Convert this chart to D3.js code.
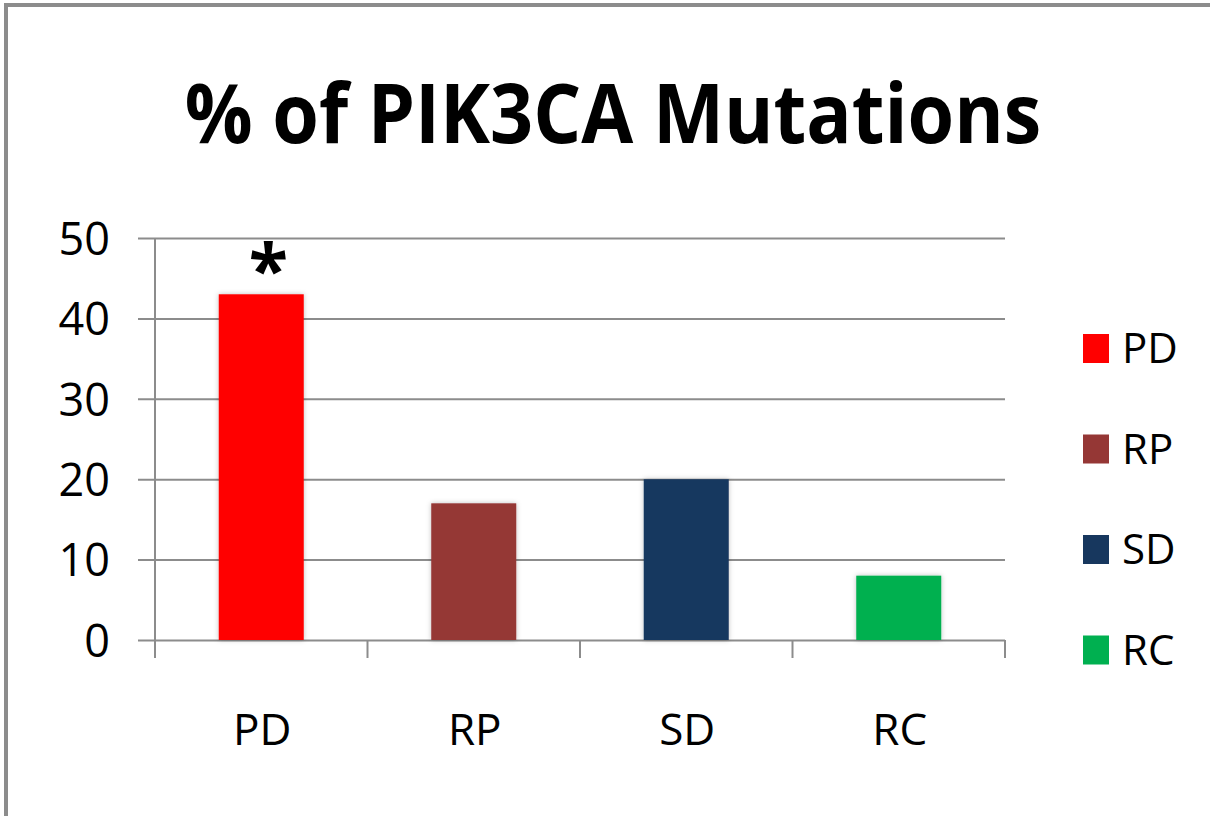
<!DOCTYPE html>
<html>
<head>
<meta charset="utf-8">
<script src="https://cdn.jsdelivr.net/npm/d3@7"></script>
<style>
  body { margin: 0; background: #fff; }
  svg { display: block; }
</style>
</head>
<body>
<svg id="chart"></svg>
<script>
var width = 1210,
    height = 816;

// data
var categories = ['PD', 'RP', 'SD', 'RC'];
var values = [43, 17, 20, 8];
var colors = ['#ff0000', '#953735', '#17375e', '#00b050'];
var yTicks = [0, 10, 20, 30, 40, 50];
var marks = [{ cat: 'PD', text: '*' }];

var PLOT = {
    LEFT: 155,
    RIGHT: 1005,
    TOP: 238,
    BOTTOM: 640
};

var svg = d3.select('#chart')
    .attr('width', width)
    .attr('height', height)
    .style('font-family', '"Open Sans", sans-serif');

// outer frame (cut off at the right and bottom)
svg.append('rect')
    .attr('x', 6)
    .attr('y', 5)
    .attr('width', width + 20)
    .attr('height', height + 20)
    .attr('fill', '#fff')
    .attr('stroke', '#8c8c8c')
    .attr('stroke-width', 4);

// title, squeezed a bit to the narrower original face
svg.append('text')
    .attr('transform', 'translate(613,143) scale(0.92,1)')
    .attr('text-anchor', 'middle')
    .style('font-size', '82px')
    .style('font-weight', '700')
    .attr('fill', '#000')
    .text('% of PIK3CA Mutations');

var xScale = d3.scaleBand()
    .domain(categories)
    .range([PLOT.LEFT, PLOT.RIGHT])
    .paddingInner(0.6)
    .paddingOuter(0.3);

var yScale = d3.scaleLinear()
    .domain([0, 50])
    .range([PLOT.BOTTOM, PLOT.TOP]);

// gridlines + y labels
var yAxis = d3.axisLeft(yScale)
    .tickValues(yTicks)
    .tickSize(-(PLOT.RIGHT - PLOT.LEFT))
    .tickSizeOuter(0)
    .tickPadding(0)
    .tickFormat(function (d) { return d; });

var yG = svg.append('g')
    .attr('transform', 'translate(' + PLOT.LEFT + ',0)')
    .call(yAxis);
yG.select('.domain')
    .attr('stroke', '#8c8c8c')
    .attr('stroke-width', 2)
    .attr('d', 'M0,' + PLOT.TOP + 'V' + (PLOT.BOTTOM + 18));
yG.selectAll('.tick line')
    .attr('x1', -17)
    .attr('stroke', '#8c8c8c')
    .attr('stroke-width', 2);
yG.selectAll('.tick text')
    .attr('x', -45)
    .attr('dy', '0.36em')
    .attr('fill', '#000')
    .style('font-size', '45px')
    .style('font-family', '"Open Sans", sans-serif');

// x axis: ticks between categories
var step = xScale.step();
var boundaries = d3.range(categories.length + 1).map(function (i) {
    return PLOT.LEFT + i * step;
});
svg.append('g')
    .selectAll('line')
    .data(boundaries)
    .join('line')
    .attr('x1', function (d) { return d; })
    .attr('x2', function (d) { return d; })
    .attr('y1', PLOT.BOTTOM)
    .attr('y2', PLOT.BOTTOM + 18)
    .attr('stroke', '#8c8c8c')
    .attr('stroke-width', 2);

svg.append('g')
    .selectAll('text')
    .data(categories)
    .join('text')
    .attr('x', function (d) { return xScale(d) + xScale.bandwidth() / 2 + 1; })
    .attr('y', 745)
    .attr('text-anchor', 'middle')
    .attr('fill', '#000')
    .style('font-size', '44px')
    .text(function (d) { return d; });

// bar shadow
var defs = svg.append('defs');
var f = defs.append('filter').attr('id', 'shadow')
    .attr('x', '-20%').attr('y', '-20%').attr('width', '140%').attr('height', '140%');
f.append('feDropShadow')
    .attr('dx', 0).attr('dy', 0)
    .attr('stdDeviation', 2.5)
    .attr('flood-color', '#000')
    .attr('flood-opacity', 0.25);

svg.append('g')
    .selectAll('rect')
    .data(categories)
    .join('rect')
    .attr('x', function (d) { return xScale(d); })
    .attr('y', function (d, i) { return yScale(values[i]); })
    .attr('width', xScale.bandwidth())
    .attr('height', function (d, i) { return PLOT.BOTTOM - yScale(values[i]); })
    .attr('fill', function (d, i) { return colors[i]; })
    .attr('filter', 'url(#shadow)');

// significance mark
svg.append('g')
    .selectAll('text')
    .data(marks)
    .join('text')
    .attr('x', function (d) { return xScale(d.cat) + xScale.bandwidth() / 2 + 7; })
    .attr('y', function (d) { return yScale(values[categories.indexOf(d.cat)]) + 2; })
    .attr('text-anchor', 'middle')
    .attr('fill', '#000')
    .style('font-size', '72px')
    .style('font-weight', '700')
    .text(function (d) { return d.text; });

// legend
var legend = svg.append('g')
    .selectAll('g')
    .data(categories)
    .join('g')
    .attr('transform', function (d, i) { return 'translate(1083,' + (334 + i * 100.5) + ')'; });
legend.append('rect')
    .attr('width', 26)
    .attr('height', 29)
    .attr('fill', function (d, i) { return colors[i]; });
legend.append('text')
    .attr('x', 39)
    .attr('y', 29)
    .attr('fill', '#000')
    .style('font-size', '42px')
    .text(function (d) { return d; });
</script>
</body>
</html>
